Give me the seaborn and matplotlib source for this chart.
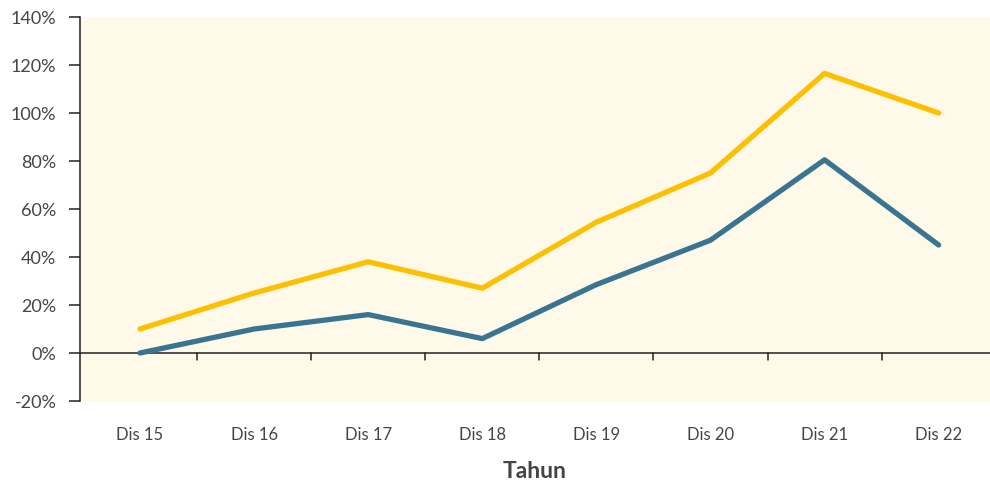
import pandas as pd
import seaborn as sns
import matplotlib.pyplot as plt
from matplotlib.ticker import FuncFormatter

# data
periods = ["Dis 15", "Dis 16", "Dis 17", "Dis 18", "Dis 19", "Dis 20", "Dis 21", "Dis 22"]
series_yellow = [10, 25, 38, 27, 54.5, 75, 116.5, 100]
series_blue = [0, 10, 16, 6, 28.5, 47, 80.5, 45]
series_names = ["A", "B"]
y_ticks = [-20, 0, 20, 40, 60, 80, 100, 120, 140]

df = pd.DataFrame({
    "Tahun": periods * 2,
    "Nilai": series_yellow + series_blue,
    "Seri": [series_names[0]] * len(periods) + [series_names[1]] * len(periods),
})

sns.set_style("white")
plt.rcParams["font.family"] = ["Lato", "DejaVu Sans"]

fig = plt.figure(figsize=(9.9, 4.82), dpi=100)
ax = fig.add_axes([80 / 990, 81 / 482, 910 / 990, 384 / 482])
ax.set_facecolor("#FFF9EA")

sns.lineplot(data=df, x="Tahun", y="Nilai", hue="Seri", sort=False,
             palette={"A": "#FDC000", "B": "#397590"}, linewidth=3.8,
             legend=False, ax=ax, solid_capstyle="round", solid_joinstyle="round")

ax.set_xlim(-0.526, len(periods) - 0.55)
ax.set_ylim(-20, 140)
ax.set_yticks(y_ticks)
ax.yaxis.set_major_formatter(FuncFormatter(lambda v, _: f"{v:.0f}%"))

# zero line with small ticks between categories
ax.axhline(0, color="#222222", lw=1.1, zorder=1)
for i in range(len(periods) - 1):
    ax.plot([i + 0.5, i + 0.5], [0, -3], color="#222222", lw=1.1, zorder=1)

for s in ["top", "right", "bottom"]:
    ax.spines[s].set_visible(False)
ax.spines["left"].set_color("#222222")
ax.spines["left"].set_linewidth(1.1)

ax.tick_params(axis="y", left=True, length=8, width=1.1, color="#222222",
               labelsize=13, labelcolor="#454545", pad=9)
ax.tick_params(axis="x", bottom=False, length=0, labelsize=12,
               labelcolor="#454545", pad=19)

ax.set_xlabel("Tahun", fontsize=16.5, fontweight="bold", color="#444444", labelpad=13)
ax.set_ylabel("")
ax.grid(False)

fig.savefig("out.png", dpi=100, facecolor="white")
